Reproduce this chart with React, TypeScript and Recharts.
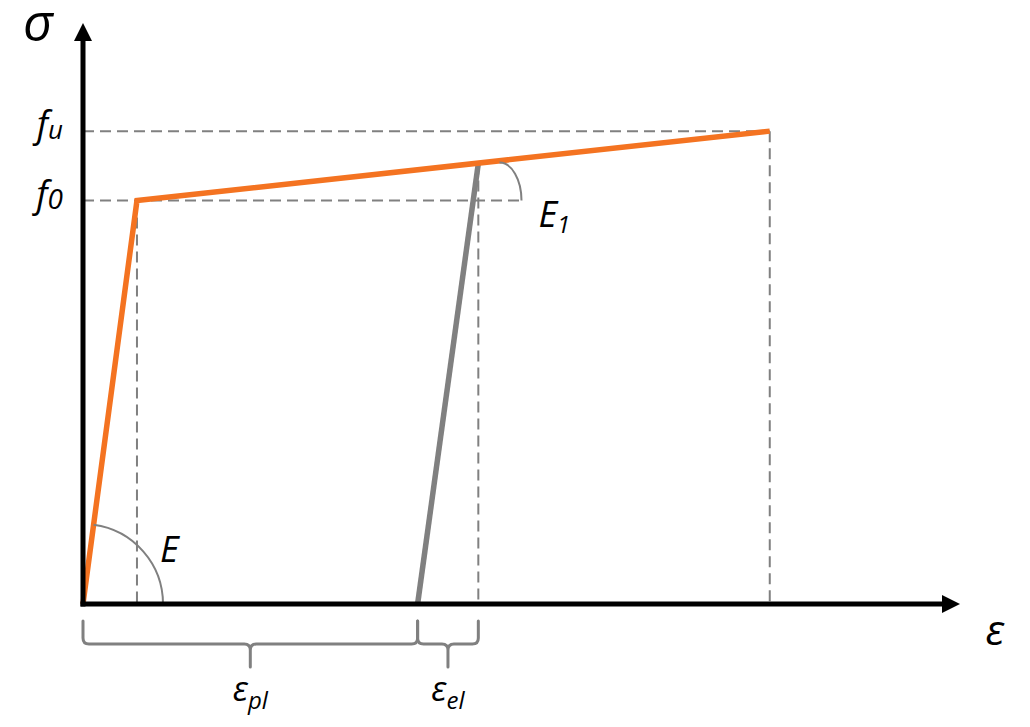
import { LineChart, Line, XAxis, YAxis, ReferenceLine, ReferenceDot } from 'recharts'

const ORANGE = '#F47321'
const GREY = '#808080'
const FONT = '"Open Sans", "Noto Sans", sans-serif'

// strain (arbitrary units) / stress values
const EPS_MAX = 65
const SIG_MAX = 720
const strains = { yield: 4, plastic: 24.8, unload: 29.3, arcEnd: 32.5, ultimate: 50.9 }
const stresses = { f0: 500, unload: 546, fu: 586 }

const loadingCurve = [
    { e: 0, s: 0 },
    { e: strains.yield, s: stresses.f0 },
    { e: strains.ultimate, s: stresses.fu },
]
const unloadingCurve = [
    { e: strains.plastic, s: 0 },
    { e: strains.unload, s: stresses.unload },
]
const yTicks = [stresses.f0, stresses.fu]
const yTickSubs = ['0', 'u']

const txt = { fontFamily: FONT, fontStyle: 'italic' as const, fill: '#000' }

function FTick(props: any) {
    const { x, y, payload } = props
    const sub = yTickSubs[yTicks.indexOf(payload.value)]
    return (
        <text x={x - 20} y={y + 6} textAnchor="end" fontSize={36} {...txt}>
            f<tspan fontSize={sub === 'u' ? 26 : 28} dy={2}>{sub}</tspan>
        </text>
    )
}

// axis line with arrow head and label near the tip
function makeArrow(label: string, dx: number, dy: number, size: number) {
    return (p: any) => {
        const { x1, y1, x2, y2 } = p
        const len = Math.hypot(x2 - x1, y2 - y1)
        const ux = (x2 - x1) / len, uy = (y2 - y1) / len
        const head = 18, half = 9
        const bx = x2 - ux * head, by = y2 - uy * head
        const px = -uy, py = ux
        return (
            <g>
                <line x1={x1 - ux * 2.5} y1={y1 - uy * 2.5} x2={bx} y2={by} stroke="#000" strokeWidth={5} />
                <polygon points={`${x2},${y2} ${bx + px * half},${by + py * half} ${bx - px * half},${by - py * half}`} fill="#000" />
                <text x={x2 + dx} y={y2 + dy} textAnchor="middle" fontSize={size} {...txt}>{label}</text>
            </g>
        )
    }
}

function ElasticArc({ x1, y1, x2, y2 }: any) {
    const r = 80
    const len = Math.hypot(x2 - x1, y2 - y1)
    const sx = x1 + ((x2 - x1) / len) * r, sy = y1 + ((y2 - y1) / len) * r
    return (
        <g>
            <path d={`M${sx},${sy} A${r},${r} 0 0 1 ${x1 + r},${y1}`} fill="none" stroke={GREY} strokeWidth={2} />
            <text x={x1 + 77} y={y1 - 42} fontSize={36} {...txt}>E</text>
        </g>
    )
}

function HardeningArc({ cx, cy }: any) {
    return (
        <g>
            <path d={`M${cx - 22},${cy - 38} A22,38 0 0 1 ${cx},${cy}`} fill="none" stroke={GREY} strokeWidth={2} />
            <text x={cx + 17} y={cy + 26} fontSize={36} {...txt}>
                E<tspan fontSize={24} dy={6}>1</tspan>
            </text>
        </g>
    )
}

function makeBrace(sub: string) {
    return ({ x1, x2, y1 }: any) => {
        const top = y1 + 17, mid = y1 + 40, tip = y1 + 63, c = (x1 + x2) / 2, r = 6
        const d = `M${x1},${top} L${x1},${mid - r} Q${x1},${mid} ${x1 + r},${mid} L${c - r},${mid} Q${c},${mid} ${c},${mid + r} L${c},${tip} ` +
            `M${x2},${top} L${x2},${mid - r} Q${x2},${mid} ${x2 - r},${mid} L${c + r},${mid} Q${c},${mid} ${c},${mid + r}`
        return (
            <g>
                <path d={d} fill="none" stroke={GREY} strokeWidth={3} strokeLinecap="round" strokeLinejoin="round" />
                <text x={c} y={y1 + 97} textAnchor="middle" fontSize={34} {...txt}>
                    ε<tspan fontSize={24} dy={8}>{sub}</tspan>
                </text>
            </g>
        )
    }
}

const dash = { stroke: GREY, strokeWidth: 2, strokeDasharray: '11 6', ifOverflow: 'visible' as const }

export default function App() {
    return (
        <div style={{ position: 'absolute', left: 0, top: 0, width: 1030, height: 727, background: '#fff' }}>
            <LineChart width={1030} height={727} margin={{ top: 23, right: 70, bottom: 123, left: 0 }}>
                <XAxis type="number" dataKey="e" domain={[0, EPS_MAX]} hide />
                <YAxis type="number" dataKey="s" domain={[0, SIG_MAX]} ticks={yTicks} interval={0} width={83}
                    axisLine={false} tickLine={false} tickSize={0} tickMargin={0} tick={FTick} />

                {/* projection lines */}
                <ReferenceLine segment={[{ x: 0, y: stresses.fu }, { x: strains.ultimate, y: stresses.fu }]} {...dash} />
                <ReferenceLine segment={[{ x: 0, y: stresses.f0 }, { x: strains.arcEnd, y: stresses.f0 }]} {...dash} />
                <ReferenceLine segment={[{ x: strains.yield, y: stresses.f0 }, { x: strains.yield, y: 0 }]} {...dash} />
                <ReferenceLine segment={[{ x: strains.unload, y: stresses.unload }, { x: strains.unload, y: 0 }]} {...dash} />
                <ReferenceLine segment={[{ x: strains.ultimate, y: stresses.fu }, { x: strains.ultimate, y: 0 }]} {...dash} />

                <Line data={unloadingCurve} dataKey="s" type="linear" stroke={GREY} strokeWidth={5.5} dot={false} isAnimationActive={false} />
                <Line data={loadingCurve} dataKey="s" type="linear" stroke={ORANGE} strokeWidth={5.5} dot={false} isAnimationActive={false} />

                <ReferenceLine segment={[{ x: 0, y: 0 }, { x: strains.yield, y: stresses.f0 }]} ifOverflow="visible" shape={ElasticArc} />
                <ReferenceDot x={strains.arcEnd} y={stresses.f0} ifOverflow="visible" shape={HardeningArc} />

                {/* axes */}
                <ReferenceLine segment={[{ x: 0, y: 0 }, { x: 0, y: SIG_MAX }]} ifOverflow="visible" shape={makeArrow('σ', -45, 18, 52)} />
                <ReferenceLine segment={[{ x: 0, y: 0 }, { x: EPS_MAX, y: 0 }]} ifOverflow="visible" shape={makeArrow('ε', 35, 41, 42)} />

                {/* strain split braces */}
                <ReferenceLine segment={[{ x: 0, y: 0 }, { x: strains.plastic, y: 0 }]} ifOverflow="visible" shape={makeBrace('pl')} />
                <ReferenceLine segment={[{ x: strains.plastic, y: 0 }, { x: strains.unload, y: 0 }]} ifOverflow="visible" shape={makeBrace('el')} />
            </LineChart>
        </div>
    )
}
